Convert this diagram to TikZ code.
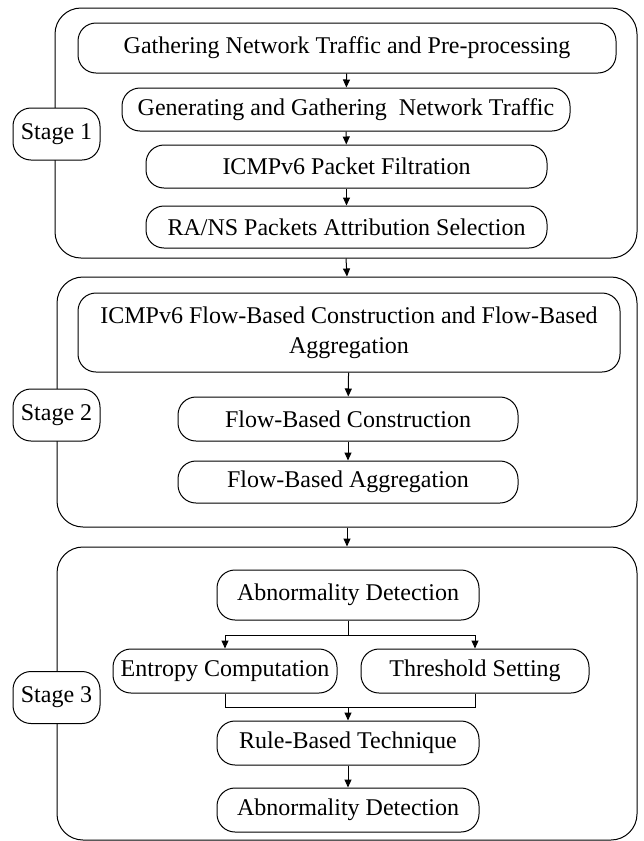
\documentclass[tikz,border=0pt]{standalone}
\usepackage{fontspec}
\setmainfont{Liberation Serif}
\usetikzlibrary{arrows.meta,positioning}

\begin{document}
\begin{tikzpicture}[x=1pt, y=-1pt,
    frame/.style={rectangle, rounded corners=26pt, draw, line width=1pt},
    box/.style={rectangle, rounded corners=18pt, draw, line width=1pt, fill=white,
                align=center, inner sep=0pt, font=\fontsize{24}{30}\selectfont},
    stagebox/.style={box, minimum width=87pt, minimum height=52pt},
    arrow/.style={-{Triangle[length=8pt,width=7pt]}, line width=1pt}
]
\useasboundingbox (0,0) rectangle (644,841);

\node[frame, minimum width=582pt, minimum height=250pt] (s1) at (346,133) {};
\node[frame, minimum width=580pt, minimum height=250pt] (s2) at (347,402) {};
\node[frame, minimum width=580pt, minimum height=293pt] (s3) at (347,693.5) {};

\node[stagebox] (st1) at (56.5,134) {Stage 1};
\node[stagebox] (st2) at (56.5,415) {Stage 2};
\node[stagebox] (st3) at (56.5,697.5) {Stage 3};

\node[box, minimum width=538pt, minimum height=50pt] (g1) at (347,48) {Gathering Network Traffic and Pre-processing};
\node[box, minimum width=448pt, minimum height=43pt] (g2) at (346,109.5) {Generating and Gathering\ \ Network Traffic};
\node[box, minimum width=401pt, minimum height=43pt] (g3) at (346.5,166.5) {ICMPv6 Packet Filtration};
\node[box, minimum width=401pt, minimum height=42pt] (g4) at (346.5,227) {RA/NS Packets Attribution Selection};

\node[box, minimum width=542pt, minimum height=79pt] (f1) at (349,332.5) {ICMPv6 Flow-Based Construction and Flow-Based\\ Aggregation};
\node[box, minimum width=340pt, minimum height=44pt] (f2) at (348,419) {Flow-Based Construction};
\node[box, minimum width=340pt, minimum height=42pt] (f3) at (348,482) {Flow-Based Aggregation};

\node[box, minimum width=262pt, minimum height=50pt] (a1) at (348,595) {Abnormality Detection};
\node[box, minimum width=224pt, minimum height=44pt] (e1) at (225,671) {Entropy Computation};
\node[box, minimum width=228pt, minimum height=44pt] (t1) at (475,671) {Threshold Setting};
\node[box, minimum width=262pt, minimum height=44pt] (r1) at (348,743) {Rule-Based Technique};
\node[box, minimum width=262pt, minimum height=44pt] (a2) at (348,810) {Abnormality Detection};

\coordinate (split) at (348,635);
\coordinate (join) at (348,707);

\draw[arrow] (g1) -- (g2);
\draw[arrow] (g2) -- (g3);
\draw[arrow] (g3) -- (g4);
\draw[arrow] (s1.south) -- (s2.north);
\draw[arrow] (f1) -- (f2);
\draw[arrow] (f2) -- (f3);
\draw[arrow] (s2.south) -- (s3.north);
\draw[line width=1pt] (a1) -- (split);
\draw[arrow] (split) -| (e1.north);
\draw[arrow] (split) -| (t1.north);
\draw[line width=1pt] (e1.south) |- (join);
\draw[line width=1pt] (t1.south) |- (join);
\draw[arrow] (join) -- (r1);
\draw[arrow] (r1) -- (a2);
\end{tikzpicture}
\end{document}
